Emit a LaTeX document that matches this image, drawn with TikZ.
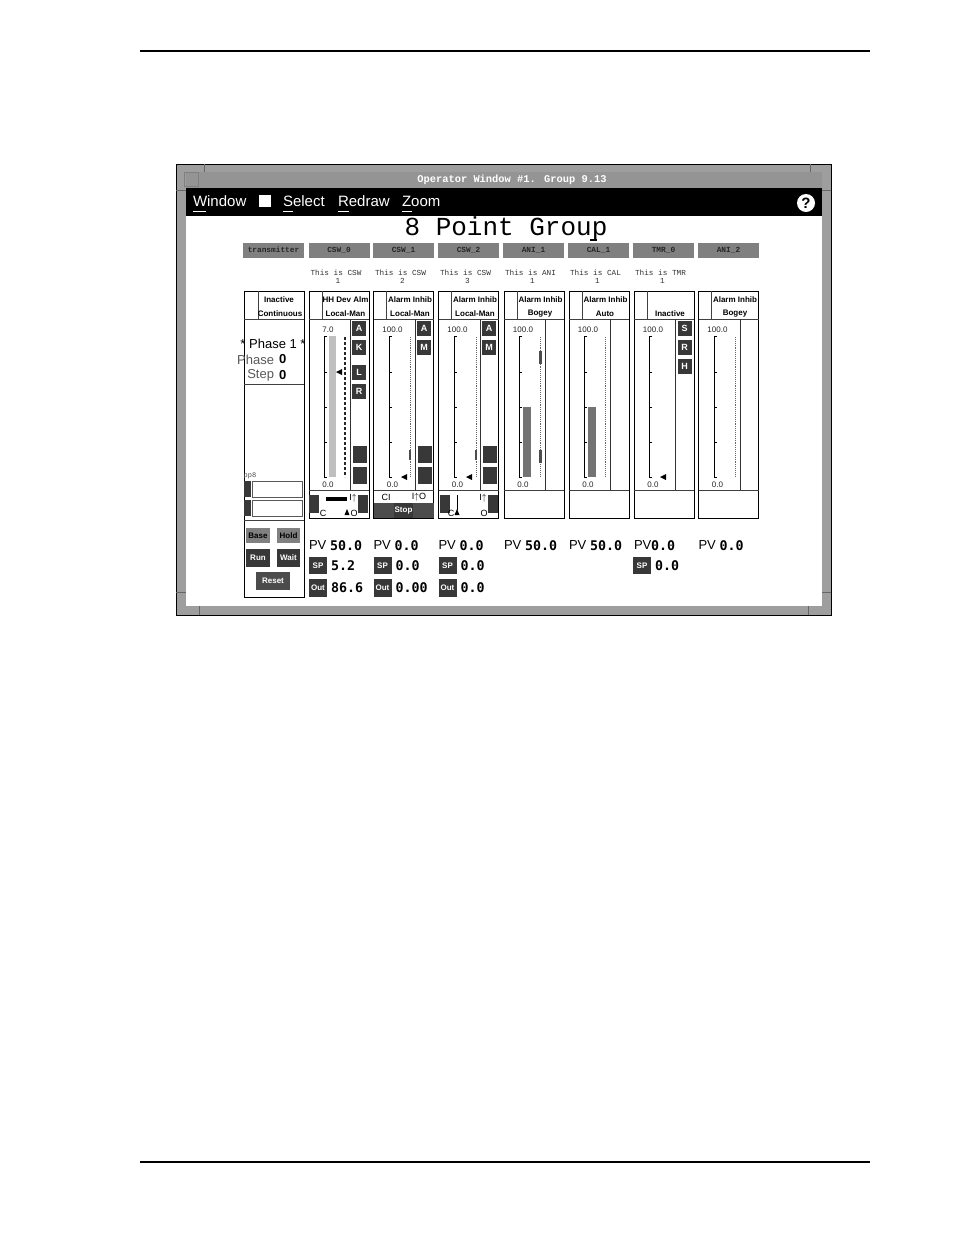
\documentclass[tikz,border=0pt]{standalone}
\usepackage{fontspec}
\setmainfont{Liberation Sans}
\newfontfamily\monofont{Liberation Mono}
\newfontfamily\valfont{DejaVu Sans Mono}
\usetikzlibrary{arrows}
\definecolor{framegray}{gray}{0.62}
\definecolor{titlegray}{gray}{0.58}
\definecolor{btngray}{gray}{0.5}
\definecolor{btndark}{gray}{0.22}
\tikzset{
  txt/.style={inner sep=0pt,outer sep=0pt},
  strip/.style={draw=black,line width=0.8pt,fill=white},
  rule/.style={line width=0.8pt,draw=black!75},
  menutxt/.style={txt,text=white,font=\fontsize{15}{15}\selectfont,anchor=west},
  tagbtn/.style={txt,draw=black!50,fill=btngray,text=black!85,minimum width=60pt,minimum height=14pt,font=\monofont\bfseries\fontsize{7.8}{7.8}\selectfont},
  smalltxt/.style={txt,font=\monofont\fontsize{7.7}{7.7}\selectfont,text=black!80},
  headtxt/.style={txt,font=\bfseries\fontsize{8}{8}\selectfont},
  scaletxt/.style={txt,font=\fontsize{8}{8}\selectfont,text=black!85},
  sidebtn/.style={txt,fill=btndark,text=white,minimum width=14pt,minimum height=15pt,font=\bfseries\fontsize{9}{9}\selectfont},
  lowbtn/.style={txt,fill=btndark,text=white,font=\bfseries\fontsize{8}{8}\selectfont},
  phasetxt/.style={txt,font=\fontsize{13}{13}\selectfont,anchor=east},
  phasenum/.style={txt,font=\bfseries\fontsize{13}{13}\selectfont,anchor=west},
  pvtxt/.style={txt,font=\fontsize{13}{13}\selectfont,anchor=west},
  valtxt/.style={txt,font=\valfont\bfseries\fontsize{13.3}{13.3}\selectfont,anchor=west}
}
\begin{document}
\begin{tikzpicture}[x=1pt,y=-1pt]
\useasboundingbox (0,0) rectangle (954,1235);
% page rules
\draw[line width=2pt] (140,51) -- (870,51);
\draw[line width=2pt] (140,1162) -- (870,1162);
% window
\draw[fill=framegray,line width=1pt] (176,164) rectangle (831,615);
\fill[titlegray] (186,172) rectangle (822,188);
\fill[black] (186,188) rectangle (822,216);
\fill[white] (186,216) rectangle (822,606);
\draw[black!50] (184,172) rectangle (198,186);
\foreach \xa in {204,810} \draw[black!60] (\xa,164) -- (\xa,172);
\foreach \xa in {199,808} \draw[black!60] (\xa,606) -- (\xa,615);
\foreach \ya in {190,592} {
  \draw[black!60] (176,\ya) -- (186,\ya);
  \draw[black!60] (822,\ya) -- (831,\ya);
}
\node[txt,text=white,font=\monofont\bfseries\fontsize{10.4}{10.4}\selectfont] (wintitle) at (512,180) {Operator Window \#1. Group 9.13};
% menu bar
\node[menutxt] (mwindow) at (193,201) {Window};
\node[txt,fill=white,minimum size=12pt] (mcheck) at (265,201) {};
\node[menutxt] (mselect) at (283,201) {Select};
\node[menutxt] (mredraw) at (338,201) {Redraw};
\node[menutxt] (mzoom) at (402,201) {Zoom};
\foreach \xa/\xb in {193/206,283/293,338/349,402/412} \draw[white] (\xa,211) -- (\xb,211);
\node[circle,fill=white,minimum size=18pt,inner sep=0pt,font=\bfseries\fontsize{15}{15}\selectfont] (mhelp) at (806,203) {?};
\node[txt,font=\monofont\fontsize{26}{26}\selectfont] (grouptitle) at (506,229) {8 Point Group};
\draw[line width=1.5pt] (590,240) -- (597,240);
% tag buttons and comments
\foreach \xa/\tagname/\tname/\tnum/\nn in {339/CSW\_0/CSW/1/a,403.5/CSW\_1/CSW/2/b,468.5/CSW\_2/CSW/3/c,533.5/ANI\_1/ANI/1/d,598.5/CAL\_1/CAL/1/e,663.5/TMR\_0/TMR/1/f} {
  \node[tagbtn] (tag\nn) at (\xa,250) {\tagname};
  \node[smalltxt] (cmt\nn) at (\xa-3,272.5) {This is \tname};
  \node[smalltxt] (num\nn) at (\xa-1,281) {\tnum};
}
\node[tagbtn] (tagg) at (728.5,250) {ANI\_2};
\node[tagbtn] (tagz) at (273.5,250) {transmitter};
% phase column
\draw[strip] (244,291) rectangle (304,597);
\draw[rule] (244,319) -- (304,319);
\draw[rule] (258,291) -- (258,319);
\draw[rule] (244,384) -- (304,384);
\draw[rule] (244,520) -- (304,520);
\node[headtxt] (zhead) at (279,300) {Inactive};
\node[headtxt] (zmode) at (280,314) {Continuous};
\node[txt,font=\fontsize{13}{13}\selectfont] (phasename) at (273,344) {* Phase 1 *};
\node[phasetxt,text=black!65] (phaselab) at (274,359.5) {Phase};
\node[phasenum] (phaseval) at (279,359.5) {0};
\node[phasetxt,text=black!65] (steplab) at (274,375) {Step};
\node[phasenum] (stepval) at (279,375) {0};
\node[txt,font=\monofont\fontsize{7}{7}\selectfont,text=black!70] (pplab) at (250,476) {pp8};
\foreach \ya/\nn in {481/a,500/b} {
  \fill[btndark] (244,\ya) rectangle (251,\ya+16);
  \draw[draw=black!65,fill=white] (252,\ya) rectangle (302,\ya+16);
}
\foreach \xa/\ya/\w/\h/\lab/\nn/\cc/\tc in {258/535.5/24/15/Base/a/btngray/black,288.5/535.5/23/15/Hold/b/btngray/black,258/558/24/18/Run/c/btndark/white,288.5/558/23/18/Wait/d/btndark/white,273/581/34/18/Reset/e/btngray!60!black/white} {
  \node[lowbtn,fill=\cc,text=\tc,minimum width=\w pt,minimum height=\h pt] (ctl\nn) at (\xa,\ya) {\lab};
}
% point columns
\foreach \xa/\toplab/\nn in {309/7.0/a,373.5/100.0/b,438.5/100.0/c,504/100.0/d,569/100.0/e,634/100.0/f,698.5/100.0/g} {
  \draw[strip] (\xa,291) rectangle (\xa+60,518);
  \draw[rule] (\xa,319) -- (\xa+60,319);
  \draw[rule] (\xa,490) -- (\xa+60,490);
  \draw[rule] (\xa+13,291) -- (\xa+13,319);
  \draw[black!80,line width=0.8pt] (\xa+41.5,319) -- (\xa+41.5,490);
  \draw[line width=0.8pt] (\xa+18,336) -- (\xa+15.5,336) -- (\xa+15.5,477) -- (\xa+18,477);
  \foreach \yt in {372,407,442} \draw (\xa+15.5,\yt) -- (\xa+18,\yt);
  \node[scaletxt] (top\nn) at (\xa+19,329.5) {\toplab};
  \node[scaletxt] (bot\nn) at (\xa+19,485) {0.0};
}
% column headers
\node[headtxt] (heada) at (345.5,300) {HH Dev Alm};
\node[headtxt] (modea) at (345.5,314) {Local-Man};
\node[headtxt] (headb) at (410,300) {Alarm Inhib};
\node[headtxt] (modeb) at (410,314) {Local-Man};
\node[headtxt] (headc) at (475,300) {Alarm Inhib};
\node[headtxt] (modec) at (475,314) {Local-Man};
\node[headtxt] (headd) at (540.5,300) {Alarm Inhib};
\node[headtxt] (moded) at (540,314) {Bogey};
\node[headtxt] (heade) at (605.5,300) {Alarm Inhib};
\node[headtxt] (modee) at (605,314) {Auto};
\node[headtxt] (modef) at (670,314) {Inactive};
\node[headtxt] (headg) at (735,300) {Alarm Inhib};
\node[headtxt] (modeg) at (735,314) {Bogey};
% bars and setpoint lines
\fill[black!25] (329,336) rectangle (336,477);
\fill[black!55] (523,407) rectangle (531,477);
\fill[black!55] (588,407) rectangle (596,477);
\foreach \xa in {410,476,540,605,735} \draw[black!60,densely dotted,line width=0.9pt] (\xa,337) -- (\xa,477);
\draw[black!85,densely dashed,line width=1.2pt] (345,337) -- (345,477);
\draw[line width=2pt,black!70] (410,450) -- (410,460);
\draw[line width=2pt,black!70] (476,450) -- (476,460);
\draw[line width=3pt,black!70] (540,351) -- (540,364);
\draw[line width=3pt,black!70] (540,450) -- (540,463);
\foreach \xa/\ya in {342/372,407/477,472/477,666/477} \fill (\xa,\ya-3) -- (\xa,\ya+3) -- (\xa-6,\ya) -- cycle;
% side buttons
\foreach \xa/\ya/\lab/\nn in {359/328.5/A/a,359/347/K/b,359/372.5/L/c,359/391.5/R/d,424/328.5/A/e,424/347/M/f,489/328.5/A/g,489/347/M/h,684.5/328.5/S/i,684.5/347/R/j,684.5/366/H/k} {
  \node[sidebtn] (side\nn) at (\xa,\ya) {\lab};
}
\foreach \xa/\nn in {359.5/a,424.5/b,489.5/c} {
  \node[sidebtn,minimum height=17pt] (fbtn\nn) at (\xa,454.5) {};
  \node[sidebtn,minimum height=17pt] (sbtn\nn) at (\xa,475) {};
}
% output cells
\foreach \xa/\nn in {314/a,362.5/b,445/c,493/d} \node[lowbtn,minimum width=10pt,minimum height=18pt] (out\nn) at (\xa,504) {};
\fill (326,497) rectangle (347,501);
\node[txt,font=\fontsize{9}{9}\selectfont] (closea) at (323,513) {C};
\node[txt,font=\fontsize{9}{9}\selectfont] (opena) at (354,513) {O};
\node[txt,font=\fontsize{9}{9}\selectfont] (arra) at (353,498) {I$\uparrow$};
\fill (344.5,515) -- (349.5,515) -- (347,509) -- cycle;
\node[txt,font=\fontsize{9}{9}\selectfont] (closeb) at (386,497) {CI};
\node[txt,font=\fontsize{9}{9}\selectfont] (openb) at (419,497) {I$\uparrow$O};
\node[lowbtn,fill=btngray!60!black,minimum width=21pt,minimum height=15pt] (stopl) at (384,510.5) {};
\node[lowbtn,minimum width=19pt,minimum height=15pt] (stopm) at (403.5,510.5) {Stop};
\node[lowbtn,fill=btngray!60!black,minimum width=21pt,minimum height=15pt] (stopr) at (423.5,510.5) {};
\draw (457,495) -- (457,510);
\fill (454.5,515) -- (459.5,515) -- (457,509) -- cycle;
\node[txt,font=\fontsize{9}{9}\selectfont] (closec) at (451,513) {C};
\node[txt,font=\fontsize{9}{9}\selectfont] (arrc) at (483,498) {I$\uparrow$};
\node[txt,font=\fontsize{9}{9}\selectfont] (openc) at (484,513) {O};
% PV rows
\foreach \xa/\val/\nn in {309/50.0/a,373.5/0.0/b,438.5/0.0/c,504/50.0/d,569/50.0/e,698.5/0.0/f} {
  \node[pvtxt] (pv\nn) at (\xa,545.5) {PV};
  \node[valtxt] (pvval\nn) at (\xa+21,545.5) {\val};
}
\node[pvtxt] (pvg) at (634,545.5) {PV};
\node[valtxt] (pvvalg) at (651,545.5) {0.0};
\foreach \xa/\val/\nn in {318/5.2/a,382.5/0.0/b,447.5/0.0/c,642/0.0/d} {
  \node[lowbtn,minimum width=18pt,minimum height=17pt] (sp\nn) at (\xa,565.5) {SP};
  \node[valtxt] (spval\nn) at (\xa+13,565.5) {\val};
}
\foreach \xa/\val/\nn in {318/86.6/a,382.5/0.00/b,447.5/0.0/c} {
  \node[lowbtn,minimum width=18pt,minimum height=18pt] (op\nn) at (\xa,588) {Out};
  \node[valtxt] (opval\nn) at (\xa+13,588) {\val};
}
\end{tikzpicture}
\end{document}
